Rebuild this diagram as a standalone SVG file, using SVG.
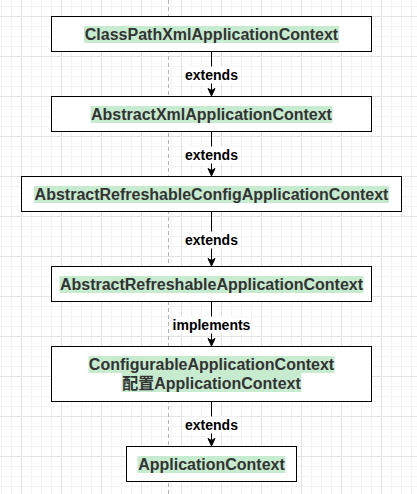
<svg xmlns="http://www.w3.org/2000/svg" width="417" height="494" viewBox="0 0 417 494">
<style>
.box{fill:#ffffff;stroke:#000000;stroke-width:1}
.hl{fill:#c6ebcf}
.t{font-family:"Liberation Sans",Arial,"Noto Sans CJK SC",sans-serif;font-size:16px;font-weight:bold;fill:#333333;text-anchor:middle}
.lbl{font-family:"Liberation Sans",Arial,sans-serif;font-size:14px;font-weight:bold;fill:#000000;text-anchor:middle}
.lblbg{fill:#ffffff}
.edge{stroke:#000000;stroke-width:1;fill:none}
.head{fill:#000000;stroke:#000000;stroke-width:1}
</style>
<defs>
<pattern id="grid" x="21" y="16" width="40" height="40" patternUnits="userSpaceOnUse">
<path d="M10.5,0V40M20.5,0V40M30.5,0V40M0,10.5H40M0,20.5H40M0,30.5H40" stroke="#f3f3f3" stroke-width="1" fill="none"/>
<path d="M0.5,0V40M0,0.5H40" stroke="#e3e3e3" stroke-width="1" fill="none"/>
</pattern>
</defs>
<rect x="0" y="0" width="417" height="494" fill="#ffffff"/>
<rect x="0" y="0" width="417" height="494" fill="url(#grid)"/>
<line x1="168.5" y1="0" x2="168.5" y2="494" stroke="#b3b3b3" stroke-width="1" stroke-dasharray="4 3"/>

<g id="connectors">
<g id="e1">
<path class="edge" d="M211.5,51.5V90.5"/>
<path class="head" d="M211.5,96L215,88.5L211.5,90.5L208,88.5Z"/>
<rect class="lblbg" x="184.5" y="66.5" width="54" height="17"/>
<text class="lbl" x="211.5" y="79.5">extends</text>
</g>
<g id="e2">
<path class="edge" d="M211.5,131.5V170.5"/>
<path class="head" d="M211.5,176L215,168.5L211.5,170.5L208,168.5Z"/>
<rect class="lblbg" x="184.5" y="146.5" width="54" height="17"/>
<text class="lbl" x="211.5" y="159.5">extends</text>
</g>
<g id="e3">
<path class="edge" d="M211.5,211.5V260.5"/>
<path class="head" d="M211.5,266L215,258.5L211.5,260.5L208,258.5Z"/>
<rect class="lblbg" x="184.5" y="231.5" width="54" height="17"/>
<text class="lbl" x="211.5" y="244.5">extends</text>
</g>
<g id="e4">
<path class="edge" d="M211.5,301.5V340.5"/>
<path class="head" d="M211.5,346L215,338.5L211.5,340.5L208,338.5Z"/>
<rect class="lblbg" x="172" y="316.5" width="79" height="17"/>
<text class="lbl" x="211.5" y="329.5">implements</text>
</g>
<g id="e5">
<path class="edge" d="M211.5,401.5V440.5"/>
<path class="head" d="M211.5,446L215,438.5L211.5,440.5L208,438.5Z"/>
<rect class="lblbg" x="184.5" y="416.5" width="54" height="17"/>
<text class="lbl" x="211.5" y="429.5">extends</text>
</g>
</g>

<g id="n1">
<rect class="box" x="51.5" y="16.5" width="320" height="35"/>
<rect class="hl" x="84" y="26" width="255" height="17"/>
<text class="t" x="211.5" y="39.7">ClassPathXmlApplicationContext</text>
</g>
<g id="n2">
<rect class="box" x="51.5" y="96.5" width="320" height="35"/>
<rect class="hl" x="90.5" y="106" width="242" height="17"/>
<text class="t" x="211.5" y="119.7">AbstractXmlApplicationContext</text>
</g>
<g id="n3">
<rect class="box" x="21.5" y="176.5" width="380" height="35"/>
<rect class="hl" x="34" y="186" width="355" height="17"/>
<text class="t" x="211.5" y="199.7">AbstractRefreshableConfigApplicationContext</text>
</g>
<g id="n4">
<rect class="box" x="51.5" y="266.5" width="320" height="35"/>
<rect class="hl" x="59.5" y="276" width="304" height="17"/>
<text class="t" x="211.5" y="289.7">AbstractRefreshableApplicationContext</text>
</g>
<g id="n5">
<rect class="box" x="51.5" y="346.5" width="320" height="55"/>
<rect class="hl" x="88.5" y="356" width="246" height="17"/>
<rect class="hl" x="121.5" y="373" width="180" height="19"/>
<text class="t" x="211.5" y="369.5">ConfigurableApplicationContext</text>
<text class="t" x="211.5" y="388.5">配置ApplicationContext</text>
</g>
<g id="n6">
<rect class="box" x="126.5" y="446.5" width="170" height="35"/>
<rect class="hl" x="137.5" y="456" width="148" height="17"/>
<text class="t" x="211.5" y="469.7">ApplicationContext</text>
</g>
</svg>
